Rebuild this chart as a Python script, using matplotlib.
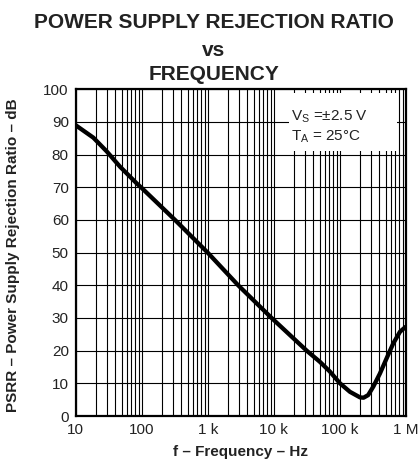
import matplotlib
matplotlib.use("Agg")
import matplotlib.pyplot as plt
from matplotlib.ticker import FixedLocator, LogLocator, NullFormatter
from matplotlib.patches import Rectangle

plt.rcParams['font.family'] = ['Liberation Sans', 'DejaVu Sans']
plt.rcParams['mathtext.default'] = 'regular'

# data
freq_hz = [10, 18.5, 29.5, 47, 84, 100, 320, 1000, 2900, 9300, 31600, 50000,
           71000, 101000, 143000, 203000, 230000, 270000, 323000, 407000,
           515000, 647000, 820000, 1000000]
psrr_db = [89, 85.2, 81, 76.3, 71.2, 69.8, 60, 50, 40, 30, 20, 16.6,
           13.6, 10, 7.4, 5.7, 5.6, 6.4, 9, 13,
           17.7, 22.2, 25.8, 27.3]

xtick_vals = [10, 100, 1e3, 1e4, 1e5, 1e6]
xtick_labels = ['10', '100', '1 k', '10 k', '100 k', '1 M']
ytick_vals = list(range(0, 101, 10))

TXT = '#222222'
W, H = 419, 466
fig = plt.figure(figsize=(W / 100, H / 100), dpi=100)
ax = fig.add_axes([75.7 / W, (H - 416) / H, 330 / W, 326.7 / H])

ax.set_xscale('log')
ax.set_xlim(10, 1e6)
ax.set_ylim(0, 100)

ax.xaxis.set_major_locator(FixedLocator(xtick_vals))
ax.set_xticklabels(xtick_labels)
ax.xaxis.set_minor_locator(LogLocator(base=10, subs=range(2, 10), numticks=20))
ax.xaxis.set_minor_formatter(NullFormatter())
ax.set_yticks(ytick_vals)

ax.grid(True, which='both', axis='x', color='black', linewidth=0.8)
ax.grid(True, which='major', axis='y', color='black', linewidth=0.8)
ax.set_axisbelow(True)

ax.tick_params(which='both', length=0, labelsize=11, pad=5, colors=TXT)
for s in ax.spines.values():
    s.set_linewidth(1.6)
    s.set_color('black')

ax.plot(freq_hz, psrr_db, color='black', linewidth=3.1, solid_capstyle='round',
        solid_joinstyle='round', zorder=3)

# annotation box
ax.add_patch(Rectangle((17000, 81), 740000 - 17000, 98.8 - 81, facecolor='white',
                       edgecolor='none', zorder=2.5))
ax.text(18500, 91.5, 'V$_S$ =±2.5 V', fontsize=11, color=TXT, va='center', ha='left', zorder=4)
ax.text(18500, 85.5, 'T$_A$ = 25°C', fontsize=11, color=TXT, va='center', ha='left', zorder=4)

fig.text(240 / W, 1 - 452 / H, 'f – Frequency – Hz', ha='center', va='center',
         fontsize=11, fontweight='bold', color=TXT)
fig.text(13 / W, 1 - 255 / H, 'PSRR – Power Supply Rejection Ratio – dB', ha='center',
         va='center', rotation=90, fontsize=11, fontweight='bold', color=TXT)

for txt, yp in [('POWER SUPPLY REJECTION RATIO', 22), ('vs', 50), ('FREQUENCY', 74)]:
    fig.text(214 / W, 1 - yp / H, txt, ha='center', va='center',
             fontsize=15, fontweight='bold', color=TXT)

fig.savefig('out.png', dpi=100)
